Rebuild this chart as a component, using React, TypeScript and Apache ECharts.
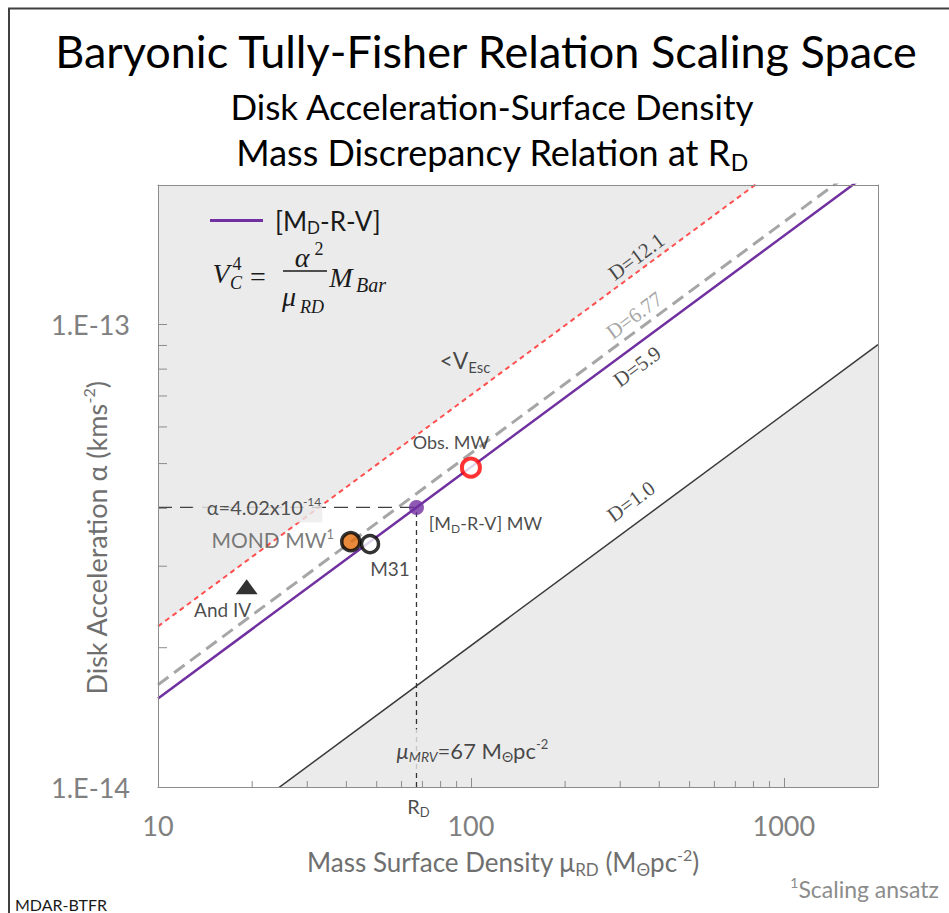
import React, { useEffect, useRef } from "react";
import * as echarts from "echarts";

const SANS = "Lato";
const SERIF = "Liberation Serif";

// ---- axes ----
const xRange = [10, 2000];
const yRange = [1e-14, 2e-13];
const xMinorTicks = [20, 30, 40, 50, 60, 70, 80, 90, 200, 300, 400, 500, 600, 700, 800, 900];
const yMinorTicks = [2e-14, 3e-14, 4e-14, 5e-14, 6e-14, 7e-14, 8e-14, 9e-14];

// ---- relation lines: alpha at mu = 10 and mu = 2000 ----
const lineMu = [10, 2000];
const alphaD12_1 = [2.224e-14, 3.145e-13];
const alphaD6_77 = [1.664e-14, 2.352e-13];
const alphaD5_9 = [1.553e-14, 2.196e-13];
const alphaD1_0 = [6.39e-15, 9.04e-14];

// ---- galaxies [mu, alpha] ----
const mdrvMW = [67, 4.02e-14];
const obsMW = [100, 4.9e-14];
const mondMW = [41.3, 3.39e-14];
const m31 = [47.6, 3.35e-14];
const andIV = [19.2, 2.71e-14];

// ---- annotation anchors [mu, alpha] ----
const anchorD12_1 = [338, 1.4e-13];
const anchorD6_77 = [333, 1.045e-13];
const anchorD5_9 = [340, 8.1e-14];
const anchorD1_0 = [325, 4.14e-14];
const anchorVesc = [95.7, 8.37e-14];
const anchorAlpha = [20.8, 4.02e-14];
const anchorMuMRV = [67, 1.2e-14];
const anchorRD = [67, 1e-14];

const pts = (a: number[]) => lineMu.map((m, i) => [m, a[i]]);

const richSet = (fs: number, color: string, family = SANS) => ({
  m: { fontSize: fs, color, fill: color, fontFamily: family, lineHeight: Math.round(fs * 1.2) },
  i: { fontSize: fs, color, fill: color, fontFamily: family, fontStyle: "italic", lineHeight: Math.round(fs * 1.2) },
  sub: { fontSize: Math.round(fs * 0.65), color, fill: color, fontFamily: family, verticalAlign: "bottom", lineHeight: Math.round(fs * 0.65) },
  isub: { fontSize: Math.round(fs * 0.65), color, fill: color, fontFamily: family, fontStyle: "italic", verticalAlign: "bottom", lineHeight: Math.round(fs * 0.65) },
  sup: { fontSize: Math.round(fs * 0.6), color, fill: color, fontFamily: family, verticalAlign: "top", lineHeight: Math.round(fs * 0.6) },
});

const isPow10 = (v: number) => Math.abs(Math.log10(v) - Math.round(Math.log10(v))) < 1e-6;

function note(value: number[], text: string, opts: any) {
  const { fs = 19, color = "#1a1a1a", family = SANS, offset = [0, 0], rotate = 0, bg, padding } = opts;
  return {
    value,
    label: {
      show: true,
      position: "inside",
      offset,
      rotate,
      formatter: () => text,
      backgroundColor: bg,
      padding,
      rich: richSet(fs, color, family),
    },
  };
}

function pointLabel(text: string, offset: number[], fs: number, color: string) {
  return {
    show: true,
    position: "inside",
    offset,
    formatter: () => text,
    rich: richSet(fs, color),
  };
}

export default function App() {
  const ref = useRef<HTMLDivElement>(null);
  useEffect(() => {
    if (!ref.current) return;
    const chart = echarts.init(ref.current, null, { renderer: "svg" });
    const axisGray = "#8c8c8c";
    const labelGray = "#808080";
    const titleGray = "#6f6f6f";
    const shade = "#ebebeb";

    const centered = { align: "center", verticalAlign: "middle", textAlign: "center", textVerticalAlign: "middle" };
    const formulaFont = (fs: number, italic = true) => ({
      fontSize: fs,
      fontFamily: SERIF,
      fontStyle: italic ? "italic" : "normal",
      fill: "#1a1a1a",
      ...centered,
    });

    const option: any = {
      animation: false,
      backgroundColor: "#ffffff",
      grid: { left: 158, top: 185, right: 71, bottom: 126, show: false },
      legend: {
        left: 210,
        top: 207.5,
        padding: 0,
        itemWidth: 53,
        itemHeight: 3,
        icon: "rect",
        data: ["[MD-R-V]"],
        formatter: () => "{g| }{m|[M}{sub|D}{m|-R-V]}",
        textStyle: {
          rich: {
            ...richSet(26, "#1a1a1a"),
            g: { fontSize: 10, width: 7 },
          },
        },
      },
      xAxis: [
        {
          type: "log",
          logBase: 10,
          min: xRange[0],
          max: xRange[1],
          z: 5,
          axisLine: { show: true, lineStyle: { color: axisGray, width: 1 } },
          axisTick: { show: true, inside: true, length: 9, lineStyle: { color: axisGray } },
          axisLabel: {
            formatter: (v: number) => (isPow10(v) ? String(Math.round(v)) : ""),
            fontSize: 27,
            fontFamily: SANS,
            color: labelGray,
            margin: 25,
          },
          splitLine: { show: false },
        },
        {
          type: "log",
          logBase: 10,
          position: "top",
          min: xRange[0],
          max: xRange[1],
          z: 5,
          axisLine: { show: true, onZero: false, lineStyle: { color: axisGray, width: 1 } },
          axisTick: { show: false },
          axisLabel: { show: false },
          splitLine: { show: false },
        },
      ],
      yAxis: [
        {
          type: "log",
          logBase: 10,
          min: yRange[0],
          max: yRange[1],
          z: 5,
          axisLine: { show: true, lineStyle: { color: axisGray, width: 1 } },
          axisTick: { show: true, inside: true, length: 9, lineStyle: { color: axisGray } },
          axisLabel: {
            formatter: (v: number) => (isPow10(v) ? `1.E${Math.round(Math.log10(v))}` : ""),
            fontSize: 27,
            fontFamily: SANS,
            color: labelGray,
            margin: 28,
          },
          splitLine: { show: false },
        },
        {
          type: "log",
          logBase: 10,
          position: "right",
          min: yRange[0],
          max: yRange[1],
          z: 5,
          axisLine: { show: true, onZero: false, lineStyle: { color: axisGray, width: 1 } },
          axisTick: { show: false },
          axisLabel: { show: false },
          splitLine: { show: false },
        },
      ],
      series: [
        {
          name: "shadeUpper",
          type: "line",
          data: pts(alphaD12_1),
          symbol: "none",
          silent: true,
          z: 1,
          lineStyle: { width: 0 },
          areaStyle: { color: shade, opacity: 1, origin: "end" },
        },
        {
          name: "shadeLower",
          type: "line",
          data: pts(alphaD1_0),
          symbol: "none",
          silent: true,
          z: 1,
          lineStyle: { width: 0 },
          areaStyle: { color: shade, opacity: 1, origin: "start" },
        },
        {
          name: "D=1.0",
          type: "line",
          data: pts(alphaD1_0),
          symbol: "none",
          z: 3,
          lineStyle: { color: "#3a3a3a", width: 1.5 },
        },
        {
          name: "D=12.1",
          type: "line",
          data: pts(alphaD12_1),
          symbol: "none",
          z: 3,
          lineStyle: { color: "#ff5050", width: 2, type: [5, 4] },
        },
        {
          name: "D=6.77",
          type: "line",
          data: pts(alphaD6_77),
          symbol: "none",
          z: 3,
          lineStyle: { color: "#a6a6a6", width: 3, type: [13, 7] },
        },
        {
          name: "[MD-R-V]",
          type: "line",
          data: pts(alphaD5_9),
          symbol: "none",
          z: 4,
          color: "#7030a0",
          lineStyle: { color: "#7030a0", width: 2.5 },
        },
        {
          name: "alphaRef",
          type: "line",
          data: [[xRange[0], mdrvMW[1]], mdrvMW],
          symbol: "none",
          z: 4,
          lineStyle: { color: "#404040", width: 1.3, type: [14, 8] },
        },
        {
          name: "muRef",
          type: "line",
          data: [[mdrvMW[0], yRange[0]], mdrvMW],
          symbol: "none",
          z: 4,
          lineStyle: { color: "#333333", width: 1.3, type: [5, 4] },
        },
        {
          name: "ticks",
          type: "custom",
          silent: true,
          clip: false,
          z: 6,
          data: [
            ...xMinorTicks.map((v) => [v, yRange[0], 0]),
            ...yMinorTicks.map((v) => [xRange[0], v, 1]),
          ],
          renderItem: (params: any, api: any) => {
            const p = api.coord([api.value(0), api.value(1)]);
            const isY = api.value(2) === 1;
            return {
              type: "line",
              shape: isY
                ? { x1: p[0], y1: p[1], x2: p[0] + 9, y2: p[1] }
                : { x1: p[0], y1: p[1], x2: p[0], y2: p[1] - 6 },
              style: { stroke: axisGray, lineWidth: 1 },
            };
          },
        },
        {
          name: "galaxies",
          type: "scatter",
          z: 10,
          data: [
            {
              value: andIV,
              symbol: "triangle",
              symbolSize: [22, 15],
              itemStyle: { color: "#000000" },
              label: pointLabel("{m|And IV}", [-24, 23], 19, "#1a1a1a"),
            },
            {
              value: m31,
              symbolSize: 17,
              itemStyle: { color: "#ffffff", borderColor: "#000000", borderWidth: 3.5 },
              label: pointLabel("{m|M31}", [20, 24], 19, "#1a1a1a"),
            },
            {
              value: mondMW,
              symbolSize: 18,
              itemStyle: { color: "#e46c0a", borderColor: "#000000", borderWidth: 3.5 },
              label: pointLabel("{m|MOND MW}{sup|1}", [-78, -2], 21, "#595959"),
            },
            {
              value: mdrvMW,
              symbolSize: 15,
              itemStyle: { color: "#7030a0" },
              label: pointLabel("{m|[M}{sub|D}{m|-R-V] MW}", [69, 16], 18, "#1a1a1a"),
            },
            {
              value: obsMW,
              symbolSize: 18,
              itemStyle: { color: "#ffffff", borderColor: "#ff0000", borderWidth: 4 },
              label: pointLabel("{m|Obs. MW}", [-20, -26], 18, "#1a1a1a"),
            },
          ],
        },
        {
          name: "notes",
          type: "scatter",
          z: 11,
          clip: false,
          silent: true,
          symbolSize: 1,
          itemStyle: { color: "rgba(0,0,0,0)" },
          data: [
            note(anchorD12_1, "{m|D=12.1}", { fs: 21, family: SERIF, rotate: 36.5 }),
            note(anchorD6_77, "{m|D=6.77}", { fs: 21, family: SERIF, rotate: 36.5, color: "#8c8c8c" }),
            note(anchorD5_9, "{m|D=5.9}", { fs: 21, family: SERIF, rotate: 36.5 }),
            note(anchorD1_0, "{m|D=1.0}", { fs: 21, family: SERIF, rotate: 36.5 }),
            note(anchorVesc, "{m|<V}{sub|Esc}", { fs: 23 }),
            note(anchorAlpha, "{m|α=4.02x10}{sup|-14}", { fs: 20, color: "#262626", bg: shade, padding: [3, 1, 3, 14] }),
            note(anchorMuMRV, "{i|μ}{isub|MRV}{m|=67 M}{sub|Θ}{m|pc}{sup|-2}", { fs: 22, offset: [56, 0], bg: shade, padding: [8, 4, 8, 4] }),
            note(anchorRD, "{m|R}{sub|D}", { fs: 20, offset: [2, 19] }),
          ],
        },
      ],
      graphic: [
        {
          type: "rect",
          z: 100,
          shape: { x: 9, y: 8.5, width: 1200, height: 1200 },
          style: { fill: "none", stroke: "#404040", lineWidth: 2 },
          silent: true,
        },
        {
          type: "text",
          z: 100,
          x: 486,
          y: 51,
          style: { text: "Baryonic Tully-Fisher Relation Scaling Space", fontSize: 45, fontFamily: SANS, fill: "#000", ...centered },
        },
        {
          type: "text",
          z: 100,
          x: 492,
          y: 106,
          style: { text: "Disk Acceleration-Surface Density", fontSize: 35, fontFamily: SANS, fill: "#000", ...centered },
        },
        {
          type: "text",
          z: 100,
          x: 492,
          y: 152,
          style: {
            text: "{m|Mass Discrepancy Relation at R}{sub|D}",
            rich: richSet(36, "#000"),
            ...centered,
          },
        },
        {
          type: "text",
          z: 100,
          x: 96,
          y: 538,
          rotation: Math.PI / 2,
          style: {
            text: "{m|Disk Acceleration α (kms}{sup|-2}{m|)}",
            rich: richSet(27, titleGray),
            ...centered,
          },
        },
        {
          type: "text",
          z: 100,
          x: 503,
          y: 862,
          style: {
            text: "{m|Mass Surface Density μ}{sub|RD}{m| (M}{sub|Θ}{m|pc}{sup|-2}{m|)}",
            rich: richSet(26, titleGray),
            ...centered,
          },
        },
        {
          type: "text",
          z: 100,
          x: 15,
          y: 904,
          style: { text: "MDAR-BTFR", fontSize: 16, fontFamily: SANS, fill: "#1a1a1a", align: "left", verticalAlign: "middle", textAlign: "left", textVerticalAlign: "middle" },
        },
        {
          type: "text",
          z: 100,
          x: 939,
          y: 889,
          style: {
            text: "{sup|1}{m|Scaling ansatz}",
            rich: richSet(23, "#8c8c8c"),
            align: "right", verticalAlign: "middle", textAlign: "right", textVerticalAlign: "middle",
          },
        },
        // formula  V_C^4 = alpha^2 / mu_RD  M_Bar
        { type: "text", z: 100, x: 221, y: 273, style: { text: "V", ...formulaFont(28) } },
        { type: "text", z: 100, x: 236, y: 283, style: { text: "C", ...formulaFont(18) } },
        { type: "text", z: 100, x: 237, y: 264, style: { text: "4", ...formulaFont(18, false) } },
        { type: "text", z: 100, x: 258, y: 276, style: { text: "=", ...formulaFont(28, false) } },
        { type: "line", z: 100, shape: { x1: 283, y1: 271, x2: 327, y2: 271 }, style: { stroke: "#1a1a1a", lineWidth: 1.3 } },
        { type: "text", z: 100, x: 302, y: 257, style: { text: "α", ...formulaFont(28) } },
        { type: "text", z: 101, x: 319, y: 249, style: { text: "2", ...formulaFont(18, false) } },
        { type: "text", z: 100, x: 289, y: 296, style: { text: "μ", ...formulaFont(28) } },
        { type: "text", z: 100, x: 312, y: 307, style: { text: "RD", ...formulaFont(18) } },
        { type: "text", z: 100, x: 341, y: 277, style: { text: "M", ...formulaFont(28) } },
        { type: "text", z: 100, x: 371, y: 285, style: { text: "Bar", ...formulaFont(20) } },
      ],
    };
    chart.setOption(option);
    return () => chart.dispose();
  }, []);
  return <div ref={ref} style={{ position: "fixed", left: 0, top: 0, width: 949, height: 913 }} />;
}
